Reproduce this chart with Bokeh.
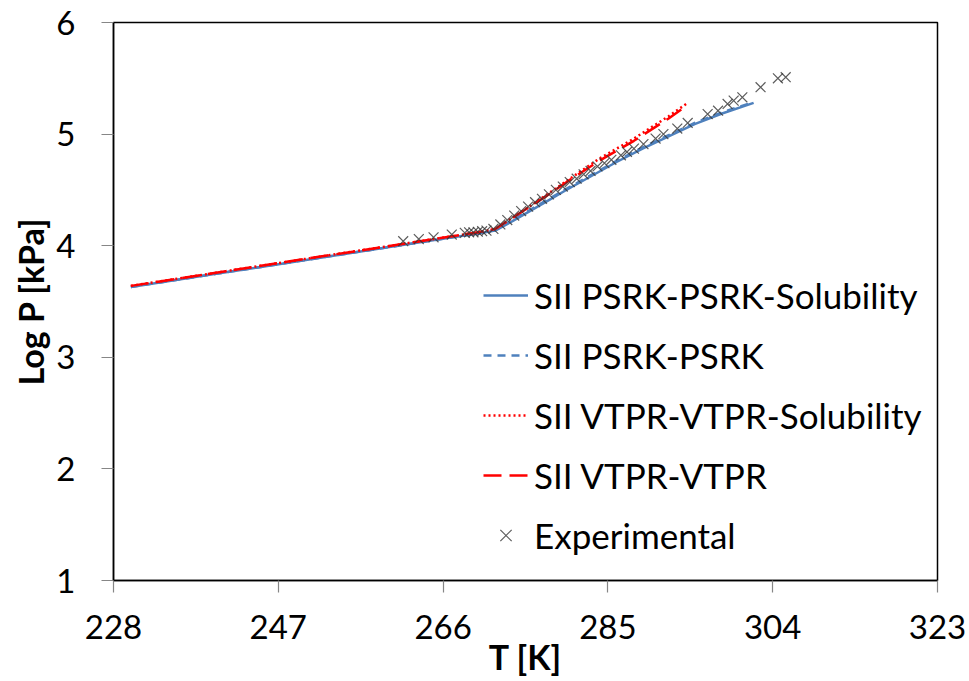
from bokeh.plotting import figure
from bokeh.models import FixedTicker, Legend, LegendItem, Range1d
from bokeh.embed import file_html
from bokeh.resources import INLINE

# ---- data ----
x_ticks = [228, 247, 266, 285, 304, 323]
y_ticks = [1, 2, 3, 4, 5, 6]

psrk_sol_T = [230, 235, 240, 245, 250, 255, 260, 265, 270, 272, 274, 276, 278, 280,
              283, 286, 289, 292, 295, 298, 301.8]
psrk_sol_P = [3.63, 3.69, 3.75, 3.81, 3.87, 3.93, 3.99, 4.05, 4.11, 4.135, 4.22, 4.31,
              4.40, 4.49, 4.62, 4.75, 4.87, 4.98, 5.09, 5.18, 5.28]

psrk_T = [230, 235, 240, 245, 250, 255, 260, 265, 270, 272, 274, 276, 278, 280,
          283, 286, 289, 292, 295, 298, 301.5]
psrk_P = [3.63, 3.69, 3.75, 3.81, 3.87, 3.93, 3.99, 4.05, 4.11, 4.14, 4.23, 4.32,
          4.41, 4.50, 4.63, 4.76, 4.88, 4.99, 5.10, 5.19, 5.28]

vtpr_sol_T = [230, 235, 240, 245, 250, 255, 260, 265, 270, 272, 275, 278, 281, 284,
              286, 288, 290, 292, 294.2]
vtpr_sol_P = [3.64, 3.70, 3.76, 3.82, 3.88, 3.94, 4.00, 4.06, 4.12, 4.15, 4.30, 4.46,
              4.62, 4.78, 4.87, 4.96, 5.06, 5.16, 5.28]

vtpr_T = [230, 235, 240, 245, 250, 255, 260, 265, 270, 272, 275, 278, 281, 284,
          286, 288, 290, 292, 293.8]
vtpr_P = [3.64, 3.70, 3.76, 3.82, 3.88, 3.94, 4.00, 4.06, 4.12, 4.15, 4.30, 4.45,
          4.61, 4.76, 4.85, 4.94, 5.04, 5.14, 5.24]

exp_T = [261.4, 263.2, 264.9, 267.0, 268.5, 269.0, 269.5, 270.0, 270.5, 271.0, 271.8,
         272.6, 273.4, 274.2, 275.0, 275.8, 276.6, 277.4, 278.2, 279.0, 279.8, 280.6,
         281.4, 282.2, 283.0, 283.8, 284.6, 285.4, 286.5, 287.2, 288.0, 289.1, 290.5,
         291.4, 293.0, 294.2, 296.5, 297.7, 298.8, 299.5, 300.5, 302.6, 304.6, 305.5]
exp_P = [4.04, 4.06, 4.075, 4.10, 4.115, 4.12, 4.12, 4.125, 4.13, 4.135, 4.15,
         4.19, 4.23, 4.27, 4.31, 4.35, 4.39, 4.42, 4.46, 4.50, 4.53, 4.57,
         4.60, 4.64, 4.67, 4.71, 4.74, 4.77, 4.81, 4.84, 4.87, 4.91, 4.96,
         5.00, 5.05, 5.10, 5.18, 5.21, 5.27, 5.30, 5.33, 5.42, 5.50, 5.51]

FONT = "Lato"
BLUE = "#4F81BD"
RED = "#FF0000"

p = figure(width=969, height=681, output_backend="svg", toolbar_location=None,
           x_range=Range1d(228, 323), y_range=Range1d(1, 6),
           min_border_left=113, min_border_right=32, min_border_top=22,
           min_border_bottom=101)
p.grid.visible = False
p.outline_line_color = "black"
p.outline_line_width = 1.5
p.background_fill_color = "white"
p.border_fill_color = "white"

r1 = p.line(psrk_sol_T, psrk_sol_P, line_color=BLUE, line_width=2.5)
r2 = p.line(psrk_T, psrk_P, line_color=BLUE, line_width=2.5, line_dash="8 6")
r3 = p.line(vtpr_sol_T, vtpr_sol_P, line_color=RED, line_width=2.5, line_dash="2 3")
r4 = p.line(vtpr_T, vtpr_P, line_color=RED, line_width=2.5, line_dash="18 8")
r5 = p.scatter(exp_T, exp_P, marker="x", size=14, line_color="#333333",
               line_alpha=0.8, line_width=1.2)

for ax in (p.xaxis[0], p.yaxis[0]):
    ax.axis_line_color = "black"
    ax.axis_line_width = 1.5
    ax.major_tick_line_color = "#868686"
    ax.major_tick_line_width = 1.2
    ax.major_tick_out = 12
    ax.major_tick_in = 0
    ax.minor_tick_line_color = None
    ax.major_label_text_font = FONT
    ax.major_label_text_font_size = "33px"
    ax.major_label_text_color = "black"
    ax.axis_label_text_font = FONT
    ax.axis_label_text_font_style = "bold"
    ax.axis_label_text_font_size = "34px"
    ax.axis_label_text_color = "black"

p.xaxis.ticker = FixedTicker(ticks=x_ticks)
p.yaxis.ticker = FixedTicker(ticks=y_ticks)
p.xaxis.major_label_standoff = 22
p.yaxis.major_label_standoff = 26
p.xaxis.axis_label = "T [K]"
p.yaxis.axis_label = "Log P [kPa]"
p.xaxis.axis_label_standoff = -6
p.yaxis.axis_label_standoff = 2

legend = Legend(items=[
    LegendItem(label="SII PSRK-PSRK-Solubility", renderers=[r1]),
    LegendItem(label="SII PSRK-PSRK", renderers=[r2]),
    LegendItem(label="SII VTPR-VTPR-Solubility", renderers=[r3]),
    LegendItem(label="SII VTPR-VTPR", renderers=[r4]),
    LegendItem(label="Experimental", renderers=[r5]),
], location=(370, 24))
legend.border_line_color = None
legend.background_fill_alpha = 0
legend.label_text_font = FONT
legend.label_text_font_size = "35px"
legend.label_text_color = "black"
legend.glyph_width = 45
legend.glyph_height = 40
legend.label_height = 40
legend.label_standoff = 6
legend.spacing = 18
legend.padding = 0
legend.margin = 0
p.add_layout(legend)

open("out.html", "w").write(file_html(p, INLINE))
